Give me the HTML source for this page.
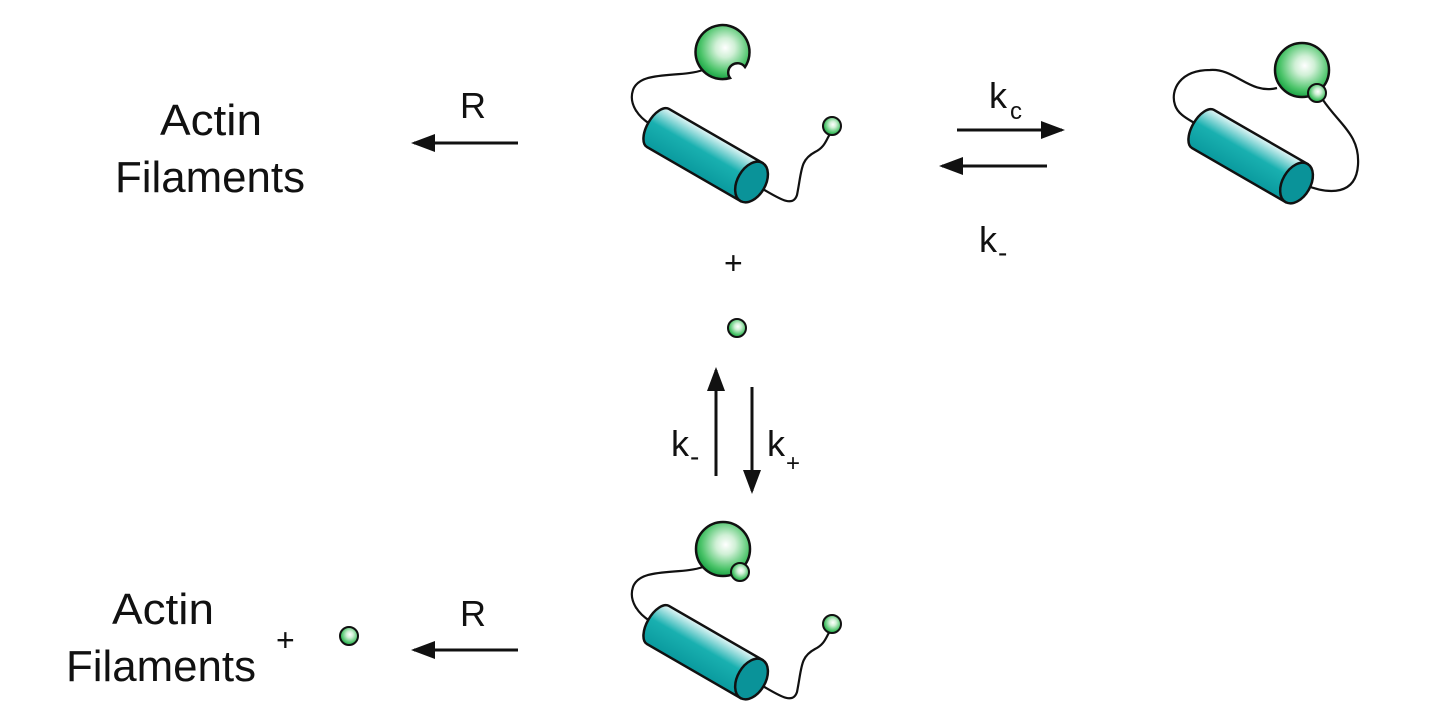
<!DOCTYPE html>
<html><head><meta charset="utf-8"><style>
html,body{margin:0;padding:0;background:#fff;}
svg{display:block;}
text{font-family:"Liberation Sans",sans-serif;fill:#111;}
</style></head><body>
<svg width="1440" height="720" viewBox="0 0 1440 720" xmlns="http://www.w3.org/2000/svg">
<defs>
<radialGradient id="gs" cx="0.55" cy="0.42" r="0.6">
<stop offset="0" stop-color="#ffffff"/><stop offset="0.3" stop-color="#d0f0d6"/><stop offset="0.75" stop-color="#4cc46a"/><stop offset="1" stop-color="#14a040"/>
</radialGradient>
<linearGradient id="gc" x1="0" y1="0" x2="0" y2="1">
<stop offset="0" stop-color="#e6f7f7"/><stop offset="0.45" stop-color="#19b0b0"/><stop offset="1" stop-color="#0a9a9e"/>
</linearGradient>
<marker id="ah" markerWidth="8" markerHeight="6" refX="7" refY="3" orient="auto" markerUnits="strokeWidth"><path d="M0,0 L8,3 L0,6 Z" fill="#111"/></marker>
<g id="cyl">
<path d="M0,-22 L108,-22 L108,22 L0,22 A11,22 0 0 1 0,-22 Z" fill="url(#gc)" stroke="#111" stroke-width="2.5"/>
<ellipse cx="108" cy="0" rx="14" ry="22" fill="#0a9399" stroke="#111" stroke-width="2.5"/>
</g>
</defs>
<g fill="none" stroke="#111" stroke-width="2.2">
<path d="M703,70 C680,78 640,70 633,90 C628,105 640,118 650,124"/>
<path d="M752,183 C775,195 792,210 797,195 C802,170 800,160 815,152 C825,147 826,140 830,134"/>
<path d="M703,567 C680,575 640,567 633,587 C628,602 640,615 650,621"/>
<path d="M752,680 C775,692 792,707 797,692 C802,667 800,657 815,649 C825,644 826,637 830,631"/>
<path d="M1277,88 C1250,95 1235,68 1210,70 C1180,70 1170,90 1175,105 C1178,115 1190,120 1196,124"/>
<path d="M1323,100 C1340,125 1360,135 1358,165 C1356,195 1330,195 1305,185"/>
</g>
<g transform="translate(658,128) rotate(30)"><use href="#cyl"/></g>
<path d="M745,67 A27,27 0 1 0 730,78 A9,9 0 0 1 745,67 Z" fill="url(#gs)" stroke="#111" stroke-width="2.5"/>
<circle cx="832" cy="126" r="9" fill="url(#gs)" stroke="#111" stroke-width="2"/>
<g transform="translate(658,625) rotate(30)"><use href="#cyl"/></g>
<circle cx="723" cy="549" r="27" fill="url(#gs)" stroke="#111" stroke-width="2.5"/>
<circle cx="740" cy="572" r="9" fill="url(#gs)" stroke="#111" stroke-width="2"/>
<circle cx="832" cy="624" r="9" fill="url(#gs)" stroke="#111" stroke-width="2"/>
<g transform="translate(1203,129) rotate(30)"><use href="#cyl"/></g>
<circle cx="1302" cy="70" r="27" fill="url(#gs)" stroke="#111" stroke-width="2.5"/>
<circle cx="1317" cy="93" r="9" fill="url(#gs)" stroke="#111" stroke-width="2"/>
<circle cx="737" cy="328" r="9" fill="url(#gs)" stroke="#111" stroke-width="2"/>
<circle cx="349" cy="636" r="9" fill="url(#gs)" stroke="#111" stroke-width="2"/>
<g stroke="#111" stroke-width="3" fill="none" marker-end="url(#ah)">
<line x1="518" y1="143" x2="414" y2="143"/>
<line x1="518" y1="650" x2="414" y2="650"/>
<line x1="957" y1="130" x2="1062" y2="130"/>
<line x1="1047" y1="166" x2="942" y2="166"/>
<line x1="716" y1="476" x2="716" y2="370"/>
<line x1="752" y1="387" x2="752" y2="491"/>
</g>
<g font-size="44" textLength="">
<text x="160" y="135" textLength="102" lengthAdjust="spacingAndGlyphs">Actin</text>
<text x="115" y="192" textLength="190" lengthAdjust="spacingAndGlyphs">Filaments</text>
<text x="112" y="624" textLength="102" lengthAdjust="spacingAndGlyphs">Actin</text>
<text x="66" y="681" textLength="190" lengthAdjust="spacingAndGlyphs">Filaments</text>
</g>
<g font-size="36">
<text x="460" y="118">R</text>
<text x="460" y="626">R</text>
<text x="989" y="108">k</text><text x="1010" y="119" font-size="24">c</text>
<text x="979" y="252">k</text><text x="998" y="262" font-size="28">-</text>
<text x="671" y="456">k</text><text x="690" y="466" font-size="28">-</text>
<text x="767" y="456">k</text><text x="786" y="471" font-size="24">+</text>
<text x="724" y="274" font-size="32">+</text>
<text x="276" y="651" font-size="32">+</text>
</g>
</svg>
</body></html>
